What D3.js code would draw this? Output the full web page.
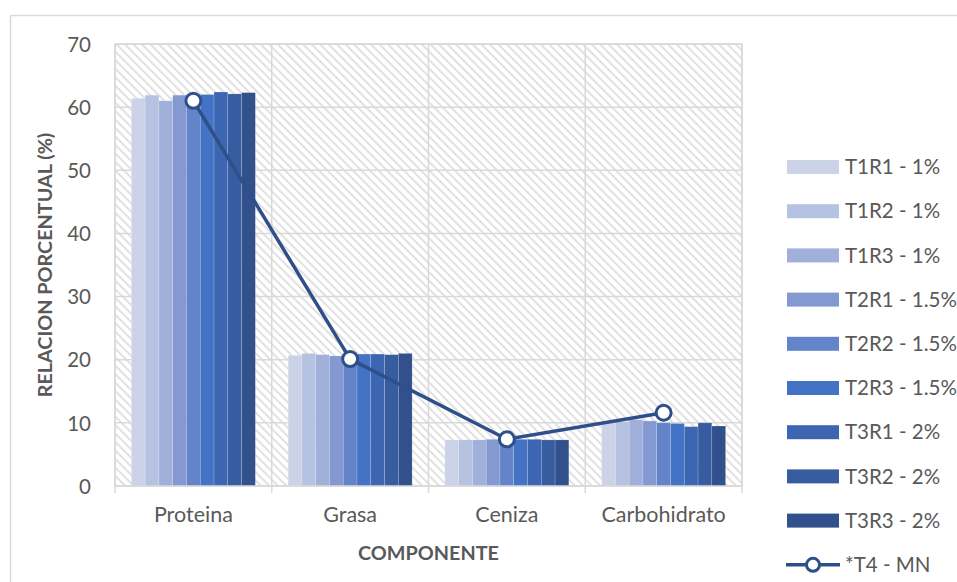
<!DOCTYPE html>
<html>
<head>
<meta charset="utf-8">
<script src="https://cdn.jsdelivr.net/npm/d3@7"></script>
<style>
  html, body { margin: 0; padding: 0; background: #fff; }
  svg { display: block; font-family: Lato, "Open Sans", sans-serif; }
</style>
</head>
<body>
<svg id="chart" width="957" height="582"></svg>
<script>
// Composition by component (%) for each treatment / replicate
const categories = ["Proteina", "Grasa", "Ceniza", "Carbohidrato"];
const seriesNames = ["T1R1 - 1%", "T1R2 - 1%", "T1R3 - 1%", "T2R1 - 1.5%", "T2R2 - 1.5%",
                     "T2R3 - 1.5%", "T3R1 - 2%", "T3R2 - 2%", "T3R3 - 2%"];
const t1r1 = [61.4, 20.7, 7.3, 10.1];
const t1r2 = [61.9, 21.0, 7.3, 10.2];
const t1r3 = [61.0, 20.8, 7.3, 10.5];
const t2r1 = [61.9, 20.6, 7.4, 10.3];
const t2r2 = [62.0, 20.7, 7.4, 10.0];
const t2r3 = [62.0, 20.9, 7.4, 9.9];
const t3r1 = [62.4, 20.9, 7.4, 9.4];
const t3r2 = [62.1, 20.8, 7.3, 10.0];
const t3r3 = [62.3, 21.0, 7.3, 9.5];
const lineName = "*T4 - MN";
const t4mn = [61.0, 20.1, 7.4, 11.6];
const yTicks = [0, 10, 20, 30, 40, 50, 60, 70];

const seriesValues = [t1r1, t1r2, t1r3, t2r1, t2r2, t2r3, t3r1, t3r2, t3r3];
const colors = ["#ccd3e8", "#b6c2e1", "#a0b0da", "#8499d2", "#6384c8",
                "#4472c4", "#3d66b2", "#375ca0", "#31508c"];
const lineColor = "#2f4f8a";
const textColor = "#595959";
const gridColor = "#d9d9d9";

const svg = d3.select("#chart");
const plot = { left: 115, right: 742, top: 44, bottom: 486 };

// Outer chart frame
svg.append("rect")
  .attr("x", 10.5).attr("y", 15.5).attr("width", 980).attr("height", 600)
  .attr("fill", "#fff").attr("stroke", gridColor).attr("stroke-width", 1.5);

// Diagonal hatch fill for the plot area
const defs = svg.append("defs");
const pat = defs.append("pattern")
  .attr("id", "hatch").attr("patternUnits", "userSpaceOnUse")
  .attr("width", 6).attr("height", 6)
  .attr("patternTransform", "rotate(45)");
pat.append("rect").attr("width", 6).attr("height", 6).attr("fill", "#fff");
pat.append("line").attr("x1", 0).attr("y1", 3).attr("x2", 6).attr("y2", 3)
  .attr("stroke", "#dadada").attr("stroke-width", 1.6);

const x = d3.scaleBand().domain(categories).range([plot.left, plot.right]).paddingInner(0).paddingOuter(0);
const inner = d3.scaleBand().domain(d3.range(seriesNames.length))
  .range([0, x.bandwidth()]).paddingOuter(1.19).paddingInner(0);
const y = d3.scaleLinear().domain([0, 70]).range([plot.bottom, plot.top]);

svg.append("rect")
  .attr("x", plot.left).attr("y", plot.top)
  .attr("width", plot.right - plot.left).attr("height", plot.bottom - plot.top)
  .attr("fill", "url(#hatch)").attr("stroke", gridColor).attr("stroke-width", 1.5);

// Horizontal gridlines
svg.append("g").selectAll("line").data(yTicks.slice(1)).join("line")
  .attr("x1", plot.left).attr("x2", plot.right)
  .attr("y1", d => y(d)).attr("y2", d => y(d))
  .attr("stroke", gridColor).attr("stroke-width", 1.5);

// Vertical category separators
const bounds = categories.map(c => x(c)).concat([plot.right]);
svg.append("g").selectAll("line").data(bounds).join("line")
  .attr("x1", d => d).attr("x2", d => d)
  .attr("y1", plot.top).attr("y2", plot.bottom + 7)
  .attr("stroke", gridColor).attr("stroke-width", 1.5);

// Bars
const barG = svg.append("g");
seriesValues.forEach((vals, si) => {
  barG.selectAll(null).data(vals).join("rect")
    .attr("x", (d, i) => x(categories[i]) + inner(si))
    .attr("y", d => y(d))
    .attr("width", inner.bandwidth())
    .attr("height", d => y(0) - y(d))
    .attr("fill", colors[si])
    .attr("stroke", "#ffffff").attr("stroke-opacity", 0.35).attr("stroke-width", 0.5);
});

// Category axis baseline
svg.append("line")
  .attr("x1", plot.left).attr("x2", plot.right)
  .attr("y1", plot.bottom).attr("y2", plot.bottom)
  .attr("stroke", gridColor).attr("stroke-width", 1.5);

// Y axis labels
const yAxis = d3.axisLeft(y).tickValues(yTicks).tickSize(0).tickPadding(0);
const yg = svg.append("g").attr("transform", `translate(${plot.left - 24},0)`).call(yAxis);
yg.select(".domain").remove();
yg.selectAll("text").attr("fill", textColor).attr("font-size", 20.5)
  .attr("font-family", "Lato, sans-serif").attr("dy", "0.35em");

// X axis labels
const xAxis = d3.axisBottom(x).tickSize(0).tickPadding(0);
const xg = svg.append("g").attr("transform", `translate(0,${plot.bottom + 19})`).call(xAxis);
xg.select(".domain").remove();
xg.selectAll("text").attr("fill", textColor).attr("font-size", 21.5)
  .attr("font-family", "Lato, sans-serif").attr("dy", "0.8em");

// Line series
const lineGen = d3.line().x((d, i) => x(categories[i]) + x.bandwidth() / 2).y(d => y(d));
svg.append("path").datum(t4mn)
  .attr("d", lineGen).attr("fill", "none")
  .attr("stroke", lineColor).attr("stroke-width", 3.5);
svg.append("g").selectAll("circle").data(t4mn).join("circle")
  .attr("cx", (d, i) => x(categories[i]) + x.bandwidth() / 2)
  .attr("cy", d => y(d)).attr("r", 7.5)
  .attr("fill", "#fff").attr("stroke", lineColor).attr("stroke-width", 3);

// Axis titles
svg.append("text")
  .attr("x", (plot.left + plot.right) / 2).attr("y", 560)
  .attr("text-anchor", "middle").attr("font-weight", "bold").attr("font-size", 19.8)
  .attr("fill", textColor).text("COMPONENTE");
svg.append("text")
  .attr("transform", `translate(52,${(plot.top + plot.bottom) / 2}) rotate(-90)`)
  .attr("text-anchor", "middle").attr("font-weight", "bold").attr("font-size", 19.8)
  .attr("fill", textColor).text("RELACION PORCENTUAL (%)");

// Legend
const legendTop = 167, legendStep = 44.2;
const leg = svg.append("g");
seriesNames.forEach((name, i) => {
  const cy = legendTop + i * legendStep;
  leg.append("rect").attr("x", 787).attr("y", cy - 7).attr("width", 52).attr("height", 14)
    .attr("fill", colors[i]);
  leg.append("text").attr("x", 845).attr("y", cy).attr("dy", "0.35em")
    .attr("font-size", 20.5).attr("fill", textColor).text(name);
});
const ly = legendTop + seriesNames.length * legendStep;
leg.append("line").attr("x1", 786).attr("x2", 840).attr("y1", ly).attr("y2", ly)
  .attr("stroke", lineColor).attr("stroke-width", 3.5);
leg.append("circle").attr("cx", 813).attr("cy", ly).attr("r", 6.5)
  .attr("fill", "#fff").attr("stroke", lineColor).attr("stroke-width", 3);
leg.append("text").attr("x", 845).attr("y", ly).attr("dy", "0.35em")
  .attr("font-size", 20.5).attr("fill", textColor).text(lineName);
</script>
</body>
</html>
